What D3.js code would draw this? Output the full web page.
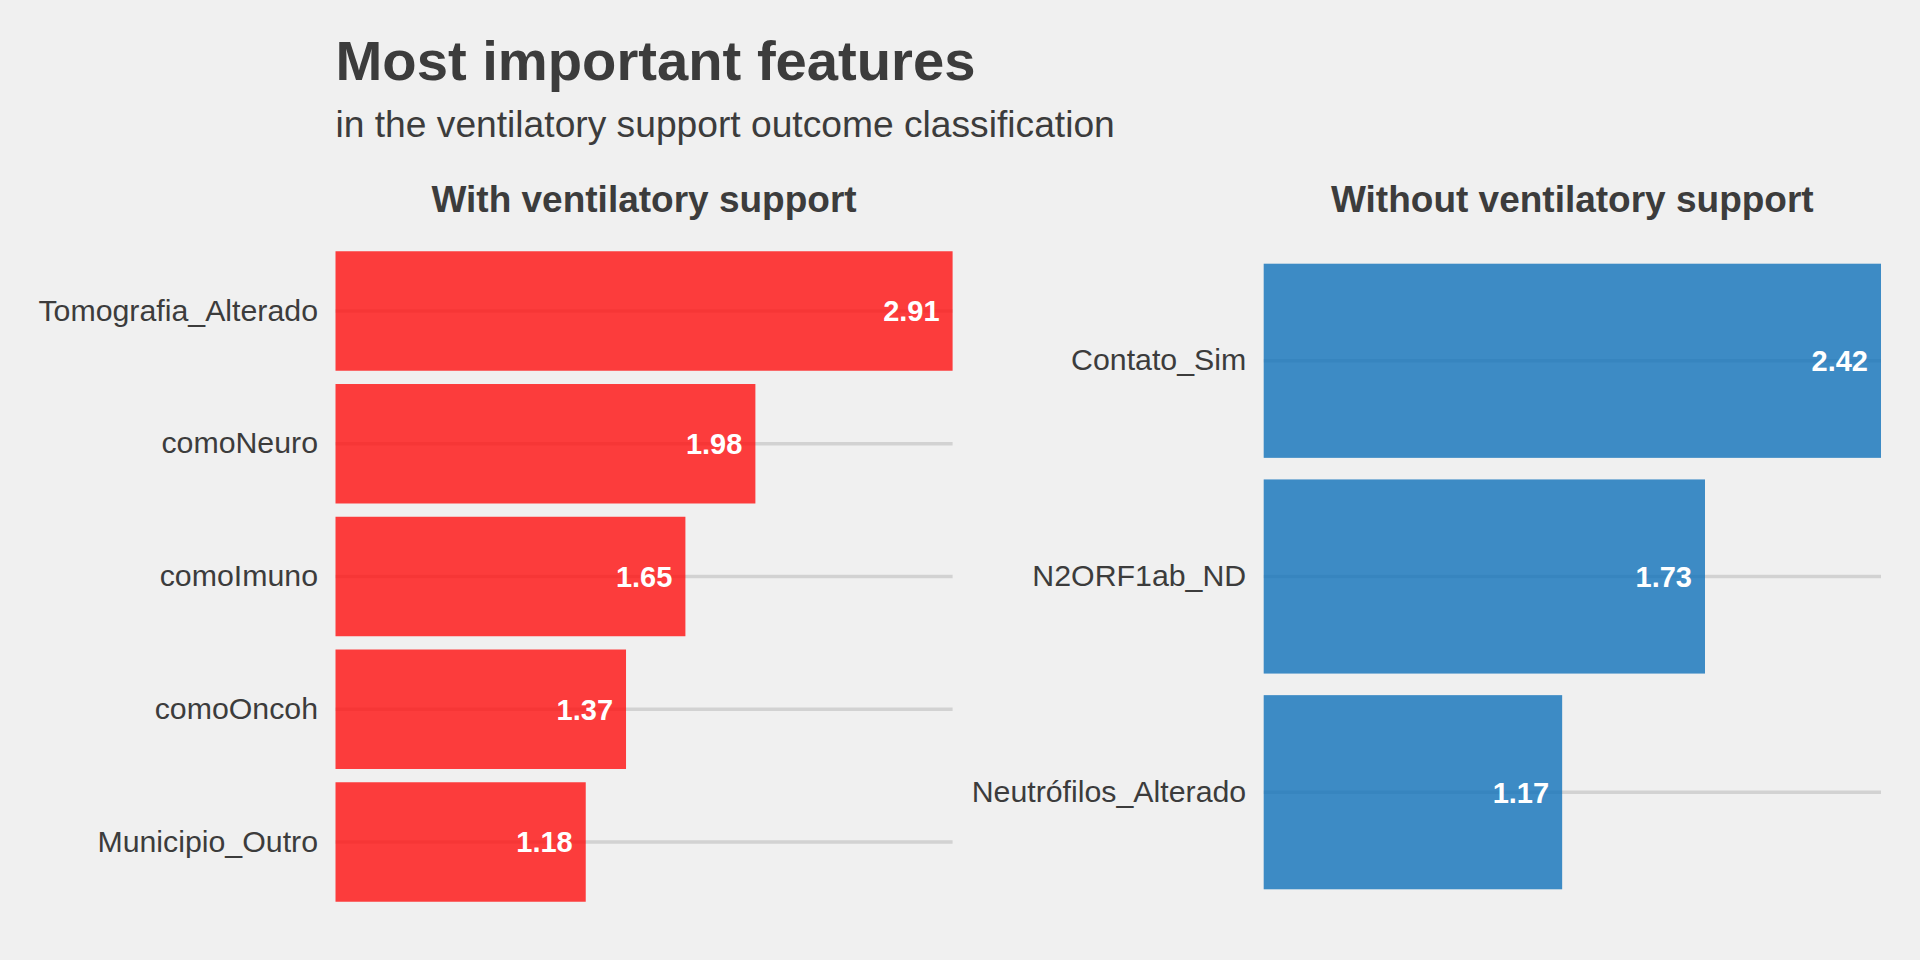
<!DOCTYPE html>
<html>
<head>
<meta charset="utf-8">
<script src="https://cdn.jsdelivr.net/npm/d3@7"></script>
<style>
  html, body { margin: 0; padding: 0; background: #F0F0F0; }
  svg { display: block; }
  text { font-family: "Liberation Sans", Arial, Helvetica, sans-serif; }
</style>
</head>
<body>
<svg id="chart" width="1920" height="960"></svg>
<script>
const chartTitle = "Most important features";
const chartSubtitle = "in the ventilatory support outcome classification";
const panelTitles = ["With ventilatory support", "Without ventilatory support"];
const withCategories = ["Tomografia_Alterado", "comoNeuro", "comoImuno", "comoOncoh", "Municipio_Outro"];
const withValues = [2.91, 1.98, 1.65, 1.37, 1.18];
const withoutCategories = ["Contato_Sim", "N2ORF1ab_ND", "Neutrófilos_Alterado"];
const withoutValues = [2.42, 1.73, 1.17];
const panelColors = ["rgb(255,15,15)", "rgb(16,114,186)"];

const svg = d3.select("#chart");
const W = 1920, H = 960;
svg.append("rect").attr("width", W).attr("height", H).attr("fill", "#F0F0F0");

const textColor = "#3C3C3C";
const panelTop = 231.35, panelBottom = 921.65;

svg.append("text").attr("x", 335.5).attr("y", 80)
  .attr("font-size", 56.2).attr("font-weight", "bold").attr("fill", textColor)
  .text(chartTitle);
svg.append("text").attr("x", 335.5).attr("y", 137)
  .attr("font-size", 37.2).attr("fill", textColor)
  .text(chartSubtitle);

const panels = [
  { cats: withCategories, vals: withValues, x0: 335.5, x1: 952.6, title: panelTitles[0], color: panelColors[0] },
  { cats: withoutCategories, vals: withoutValues, x0: 1263.7, x1: 1881, title: panelTitles[1], color: panelColors[1] }
];

panels.forEach(p => {
  const data = p.cats.map((c, i) => ({ cat: c, val: p.vals[i] }));
  const x = d3.scaleLinear().domain([0, d3.max(p.vals)]).range([p.x0, p.x1]);
  const y = d3.scaleBand().domain(p.cats).range([panelTop, panelBottom])
    .paddingInner(0.1).paddingOuter(0.15);
  const g = svg.append("g");

  g.append("text")
    .attr("x", (p.x0 + p.x1) / 2).attr("y", 212)
    .attr("text-anchor", "middle").attr("font-size", 37).attr("font-weight", "bold")
    .attr("fill", textColor).text(p.title);

  // horizontal gridlines
  g.selectAll("line.grid").data(data).enter().append("line")
    .attr("class", "grid")
    .attr("x1", p.x0).attr("x2", p.x1)
    .attr("y1", d => y(d.cat) + y.bandwidth() / 2)
    .attr("y2", d => y(d.cat) + y.bandwidth() / 2)
    .attr("stroke", "#D2D2D2").attr("stroke-width", 3.5);

  // y axis labels
  const yAxis = d3.axisLeft(y).tickSize(0).tickPadding(17.5);
  const ax = g.append("g").attr("transform", `translate(${p.x0},0)`).call(yAxis);
  ax.select(".domain").remove();
  ax.selectAll("text").attr("font-size", 30.3).attr("fill", textColor)
    .attr("font-family", '"Liberation Sans", Arial, sans-serif');

  // bars
  g.selectAll("rect.bar").data(data).enter().append("rect")
    .attr("class", "bar")
    .attr("x", x(0)).attr("y", d => y(d.cat))
    .attr("width", d => x(d.val) - x(0)).attr("height", y.bandwidth())
    .attr("fill", p.color).attr("fill-opacity", 0.8);

  // value labels
  g.selectAll("text.val").data(data).enter().append("text")
    .attr("class", "val")
    .attr("x", d => x(d.val) - 13)
    .attr("y", d => y(d.cat) + y.bandwidth() / 2)
    .attr("dy", "0.36em")
    .attr("text-anchor", "end").attr("font-size", 29).attr("font-weight", "bold")
    .attr("fill", "#FFFFFF")
    .text(d => d3.format(".2f")(d.val));
});
</script>
</body>
</html>
